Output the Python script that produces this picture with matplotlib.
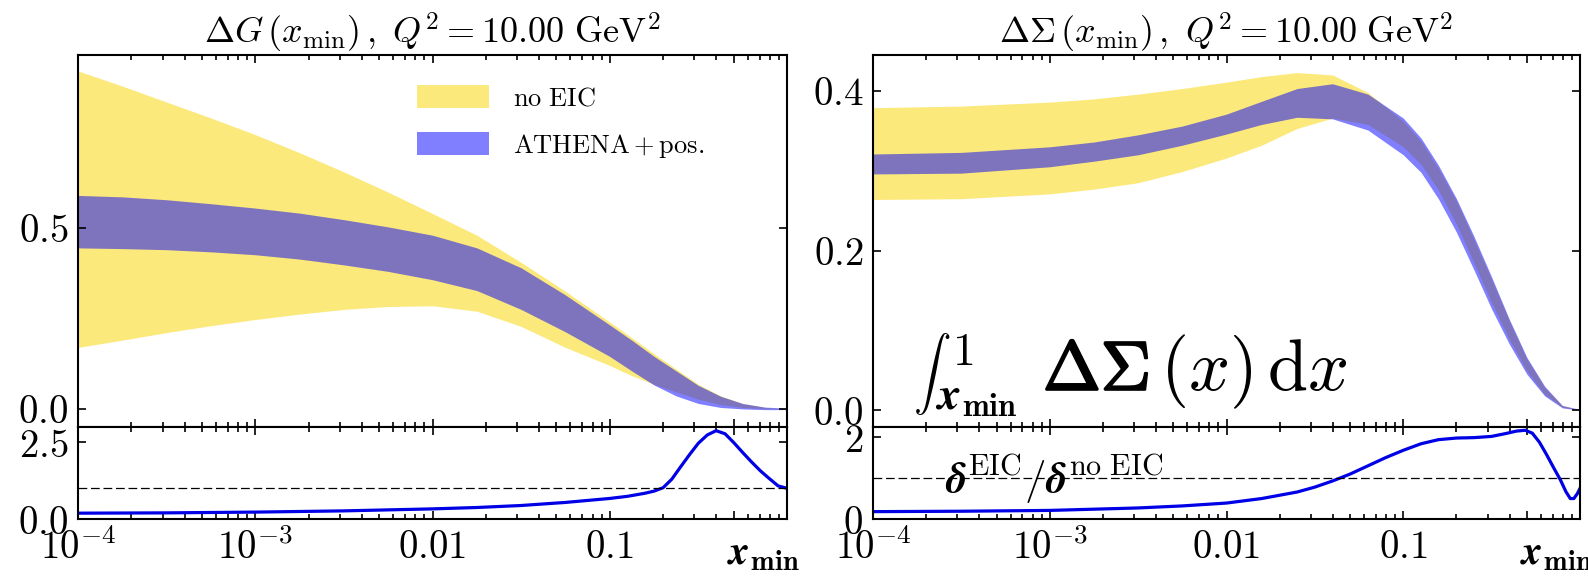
import matplotlib
matplotlib.use('Agg')
import matplotlib.pyplot as plt
import matplotlib.patheffects as pe
from matplotlib.ticker import FixedLocator, FixedFormatter, LogLocator, NullFormatter

plt.rcParams['mathtext.fontset'] = 'cm'
plt.rcParams['font.family'] = 'DejaVu Serif'

# --- Delta G(x_min) bands ---
g_x = [1e-4, 1.78e-4, 3.16e-4, 5.62e-4, 1e-3, 1.78e-3, 3.16e-3, 5.62e-3, 0.01, 0.0178, 0.0316, 0.0562, 0.1,
       0.133, 0.178, 0.237, 0.316, 0.422, 0.562, 0.75, 1.0]
g_noeic_hi = [0.934, 0.892, 0.848, 0.804, 0.758, 0.708, 0.655, 0.599, 0.54, 0.48, 0.405, 0.325, 0.24,
              0.197, 0.152, 0.11, 0.068, 0.036, 0.015, 0.004, 0.0]
g_noeic_lo = [0.17, 0.19, 0.211, 0.23, 0.247, 0.262, 0.275, 0.283, 0.285, 0.27, 0.228, 0.17, 0.12,
              0.092, 0.068, 0.047, 0.027, 0.012, 0.004, 0.001, 0.0]
g_ath_hi = [0.59, 0.586, 0.578, 0.567, 0.555, 0.541, 0.523, 0.503, 0.48, 0.445, 0.39, 0.315, 0.232,
            0.19, 0.145, 0.105, 0.065, 0.035, 0.015, 0.005, 0.002]
g_ath_lo = [0.445, 0.443, 0.44, 0.434, 0.426, 0.414, 0.398, 0.38, 0.357, 0.327, 0.275, 0.213, 0.145,
            0.105, 0.066, 0.036, 0.015, 0.004, 0.0, -0.002, -0.002]

# ratio delta^EIC / delta^noEIC for Delta G
g_rx = [1e-4, 3.16e-4, 1e-3, 3.16e-3, 0.01, 0.0178, 0.0316, 0.0562, 0.1, 0.126, 0.158, 0.178, 0.2, 0.224,
        0.251, 0.282, 0.316, 0.355, 0.398, 0.447, 0.501, 0.562, 0.631, 0.708, 0.794, 0.891, 1.0]
g_ratio = [0.19, 0.2, 0.225, 0.265, 0.33, 0.375, 0.44, 0.54, 0.67, 0.74, 0.84, 0.91, 1.02, 1.3,
           1.7, 2.1, 2.47, 2.74, 2.88, 2.78, 2.49, 2.17, 1.86, 1.57, 1.32, 1.08, 1.0]

# --- Delta Sigma(x_min) bands ---
s_x = [1e-4, 3.16e-4, 1e-3, 1.78e-3, 3.16e-3, 5.62e-3, 0.01, 0.0158, 0.0251, 0.0398, 0.0631, 0.1, 0.126,
       0.158, 0.2, 0.251, 0.316, 0.398, 0.501, 0.631, 0.794, 1.0]
s_noeic_hi = [0.379, 0.381, 0.386, 0.39, 0.396, 0.403, 0.411, 0.418, 0.423, 0.42, 0.398, 0.362, 0.337,
              0.303, 0.262, 0.214, 0.164, 0.112, 0.064, 0.029, 0.006, 0.0]
s_noeic_lo = [0.264, 0.265, 0.271, 0.277, 0.285, 0.299, 0.316, 0.332, 0.353, 0.366, 0.358, 0.33, 0.308,
              0.276, 0.233, 0.185, 0.135, 0.089, 0.049, 0.02, 0.004, 0.0]
s_ath_hi = [0.321, 0.323, 0.33, 0.336, 0.345, 0.356, 0.371, 0.387, 0.403, 0.409, 0.396, 0.366, 0.341,
            0.307, 0.265, 0.218, 0.167, 0.114, 0.066, 0.03, 0.006, 0.001]
s_ath_lo = [0.296, 0.297, 0.305, 0.312, 0.32, 0.332, 0.346, 0.358, 0.367, 0.365, 0.351, 0.32, 0.298,
            0.265, 0.223, 0.176, 0.127, 0.083, 0.045, 0.018, 0.003, 0.0]

s_rx = [1e-4, 3.16e-4, 1e-3, 3.16e-3, 5.62e-3, 0.01, 0.0158, 0.0251, 0.0316, 0.0398, 0.0501, 0.0631, 0.0794,
        0.1, 0.126, 0.158, 0.2, 0.251, 0.316, 0.38, 0.437, 0.49, 0.537, 0.589, 0.646, 0.708, 0.776, 0.832,
        0.881, 0.923, 0.966, 1.0]
s_ratio = [0.18, 0.19, 0.21, 0.27, 0.32, 0.39, 0.5, 0.66, 0.78, 0.93, 1.1, 1.3, 1.5,
           1.68, 1.84, 1.94, 1.98, 1.99, 2.02, 2.09, 2.15, 2.17, 2.1, 1.88, 1.58, 1.26, 0.95, 0.67,
           0.5, 0.5, 0.62, 0.75]

yellow = '#fce97c'
W, H = 1588, 585
fig = plt.figure(figsize=(W / 100, H / 100), dpi=100)


def box(x0, x1, ytop, ybot):
    return [x0 / W, 1 - ybot / H, (x1 - x0) / W, (ybot - ytop) / H]


def fpos(px, py):
    return px / W, 1 - py / H


def style(ax, xlabels):
    ax.set_xscale('log')
    ax.set_xlim(1e-4, 1)
    ax.xaxis.set_major_locator(FixedLocator([1e-4, 1e-3, 1e-2, 1e-1, 0.5]))
    ax.xaxis.set_minor_locator(LogLocator(base=10, subs=range(2, 10), numticks=20))
    ax.xaxis.set_minor_formatter(NullFormatter())
    if xlabels:
        ax.xaxis.set_major_formatter(FixedFormatter([r'$10^{-4}$', r'$10^{-3}$', r'$0.01$', r'$0.1$', '']))
    else:
        ax.xaxis.set_major_formatter(NullFormatter())
    ax.tick_params(which='both', direction='in', top=True, right=True, labelsize=28, width=1.2)
    ax.tick_params(which='major', length=6, pad=7)
    ax.tick_params(which='minor', length=3.5)
    for s in ax.spines.values():
        s.set_linewidth(1.5)


panels = [
    (78, 787, g_x, g_noeic_lo, g_noeic_hi, g_ath_lo, g_ath_hi, (-0.05, 0.978), [0.0, 0.5], ['$0.0$', '$0.5$'],
     g_rx, g_ratio, (0, 3.0), [0.0, 2.5], ['$0.0$', '$2.5$'], r'$\Delta G\,(x_{\rm min})\,,\ Q^2 = 10.00\ {\rm GeV}^2$'),
    (873, 1580, s_x, s_noeic_lo, s_noeic_hi, s_ath_lo, s_ath_hi, (-0.021, 0.445), [0.0, 0.2, 0.4],
     ['$0.0$', '$0.2$', '$0.4$'], s_rx, s_ratio, (0, 2.25), [0, 2], ['$0$', '$2$'],
     r'$\Delta \Sigma\,(x_{\rm min})\,,\ Q^2 = 10.00\ {\rm GeV}^2$'),
]

for i, (x0, x1, bx, nlo, nhi, alo, ahi, ylim, yt, ytl, rx, rv, rylim, ryt, rytl, title) in enumerate(panels):
    ax = fig.add_axes(box(x0, x1, 55, 427))
    ax.fill_between(bx, nlo, nhi, color=yellow, lw=0, label=r'$\mathrm{no\ EIC}$')
    ax.fill_between(bx, alo, ahi, color='blue', alpha=0.5, lw=0, label=r'$\mathrm{ATHENA} + \mathrm{pos.}$')
    style(ax, False)
    ax.set_ylim(*ylim)
    ax.set_yticks(yt)
    ax.set_yticklabels(ytl)
    ax.set_title(title, fontsize=26, pad=6)

    rax = fig.add_axes(box(x0, x1, 427, 519))
    rax.plot(rx, rv, color='#0000e6', lw=2.3, solid_capstyle='round', solid_joinstyle='round')
    rax.axhline(1.0, color='black', lw=0.9, ls=(0, (7, 3)))
    style(rax, True)
    rax.set_ylim(*rylim)
    rax.set_yticks(ryt)
    rax.set_yticklabels(rytl)
    rax.text(0.915, -0.39, r'$\boldsymbol{x}_{\mathbf{min}}$', transform=rax.transAxes, fontsize=29,
             ha='left', va='center', clip_on=False)

    if i == 0:
        ax.legend(loc='upper left', bbox_to_anchor=(0.478, 0.92), frameon=False, fontsize=19,
                  handlelength=2.75, handleheight=1.0, labelspacing=0.8, handletextpad=0.9, borderpad=0,
                  borderaxespad=0)

# integral label in the Delta Sigma panel
bold = [pe.withStroke(linewidth=1.6, foreground='black')]
fig.text(*fpos(913, 374), r'$\int$', fontsize=27, ha='left', va='center')
fig.text(*fpos(952, 330), r'$\mathbf{1}$', fontsize=33, ha='left', va='top')
fig.text(*fpos(935, 419), r'$\boldsymbol{x}_{\mathbf{min}}$', fontsize=33, ha='left', va='bottom')
fig.text(*fpos(1043, 390), r'$\Delta\Sigma$', fontsize=50, ha='left', va='baseline', path_effects=bold)
fig.text(*fpos(1160, 390), r'$(x)\,\mathrm{d}x$', fontsize=52, ha='left', va='baseline')
fig.text(*fpos(945, 479), r'$\boldsymbol{\delta}^{\rm EIC}\boldsymbol{/}\boldsymbol{\delta}^{\rm no\ EIC}$',
         fontsize=31, ha='left', va='center')

fig.savefig('out.png', dpi=100)
